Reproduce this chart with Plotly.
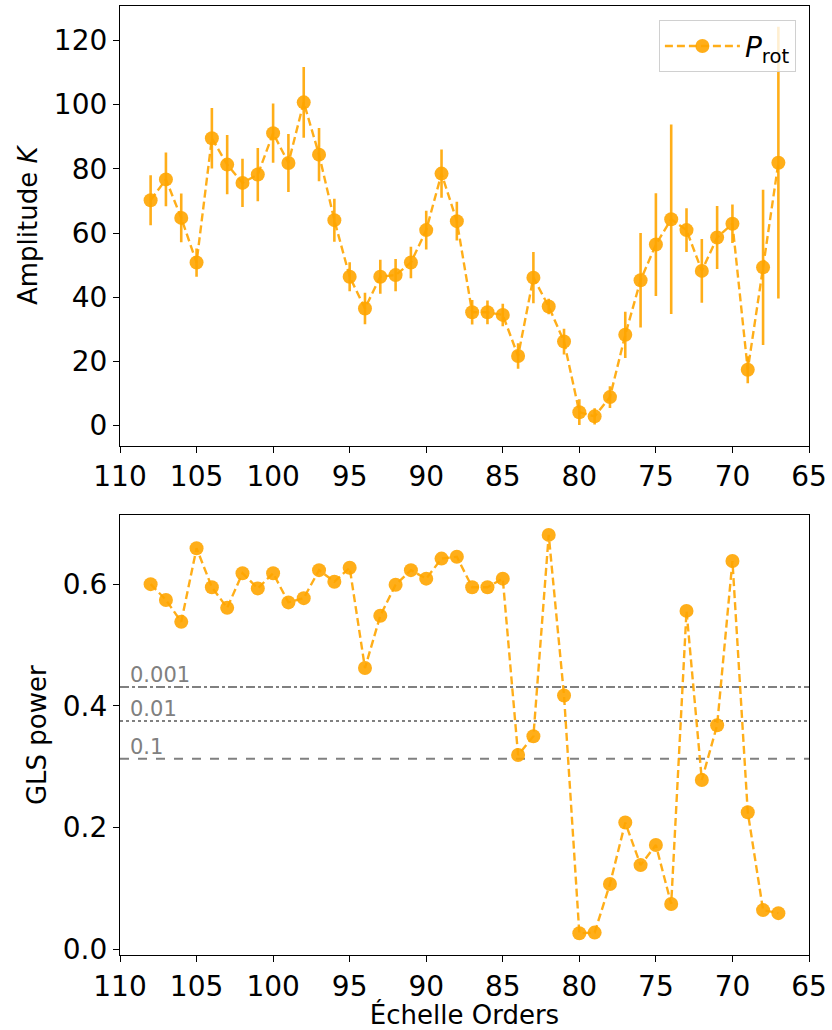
import plotly.graph_objects as go

# Echelle order numbers
orders = list(range(108, 66, -1))

# Rotation-period amplitude per order and its uncertainty
amplitude = [70.2, 76.7, 64.7, 50.8, 89.5, 81.3, 75.6, 78.2, 91.1, 81.8,
             100.7, 84.4, 64.0, 46.4, 36.5, 46.4, 46.9, 50.8, 60.9, 78.5,
             63.7, 35.3, 35.3, 34.5, 21.7, 46.1, 37.1, 26.2, 4.2, 2.9,
             8.9, 28.3, 45.3, 56.4, 64.3, 60.9, 48.2, 58.6, 62.9, 17.4,
             49.3, 81.9]
amplitude_err = [7.8, 8.4, 7.6, 4.4, 9.4, 9.2, 7.5, 8.3, 9.2, 9.0,
                 11.0, 8.3, 6.7, 4.5, 4.9, 5.3, 5.0, 4.9, 6.0, 7.5,
                 6.0, 3.8, 3.7, 3.5, 4.0, 8.0, 2.4, 4.0, 4.0, 2.5,
                 3.4, 7.2, 14.7, 16.0, 29.5, 6.8, 9.9, 9.8, 6.0, 4.2,
                 24.2, 42.3]

# GLS periodogram power at the rotation period per order
gls_power = [0.600, 0.574, 0.538, 0.659, 0.595, 0.561, 0.618, 0.593, 0.618, 0.570,
             0.577, 0.623, 0.604, 0.627, 0.462, 0.548, 0.599, 0.623, 0.609, 0.642,
             0.645, 0.595, 0.595, 0.609, 0.319, 0.350, 0.681, 0.417, 0.026, 0.027,
             0.107, 0.208, 0.138, 0.171, 0.074, 0.556, 0.278, 0.368, 0.638, 0.225,
             0.064, 0.059]

# False-alarm-probability levels
fap_labels = ["0.001", "0.01", "0.1"]
fap_levels = [0.431, 0.375, 0.313]
fap_dashes = ["dashdot", "dot", "dash"]

ORANGE = "rgba(255,165,0,0.9)"
GREY = "#808080"
FONT = "DejaVu Sans"

fig = go.Figure()

fig.add_trace(go.Scatter(
    x=orders, y=amplitude,
    error_y=dict(type="data", array=amplitude_err, color=ORANGE, thickness=2.6, width=0),
    mode="lines+markers",
    line=dict(color=ORANGE, width=2.4, dash="8px,4px"),
    marker=dict(color=ORANGE, size=14),
    name="<i>P</i><sub>rot</sub>",
    xaxis="x", yaxis="y",
))

fig.add_trace(go.Scatter(
    x=orders, y=gls_power,
    mode="lines+markers",
    line=dict(color=ORANGE, width=2.4, dash="8px,4px"),
    marker=dict(color=ORANGE, size=14),
    showlegend=False,
    xaxis="x2", yaxis="y2",
))

for lab, lev, dsh in zip(fap_labels, fap_levels, fap_dashes):
    fig.add_shape(type="line", xref="x2 domain", yref="y2",
                  x0=0, x1=1, y0=lev, y1=lev,
                  line=dict(color=GREY, width=2, dash=dsh), layer="below")
    fig.add_annotation(xref="x2", yref="y2", x=109.45, y=lev, text=lab,
                       showarrow=False, xanchor="left", yanchor="bottom",
                       yshift=-2, font=dict(family=FONT, size=21, color=GREY))

axis_common = dict(
    showline=True, linecolor="black", linewidth=1.2, mirror=True,
    ticks="outside", ticklen=6, tickwidth=1.2, tickcolor="black",
    showgrid=False, zeroline=False,
    tickfont=dict(family=FONT, size=28, color="black"),
)

fig.update_layout(
    width=832, height=1030,
    margin=dict(l=120, r=22, t=5, b=73),
    plot_bgcolor="white", paper_bgcolor="white",
    font=dict(family=FONT, color="black"),
    xaxis=dict(domain=[0, 1], anchor="y", range=[110, 65],
               tickvals=list(range(110, 64, -5)), **axis_common),
    yaxis=dict(domain=[0.5368, 1.0], anchor="x", range=[-6.2, 130.7],
               tickvals=[0, 20, 40, 60, 80, 100, 120],
               title=dict(text="Amplitude <i>K</i>", font=dict(family=FONT, size=26), standoff=8),
               **axis_common),
    xaxis2=dict(domain=[0, 1], anchor="y2", range=[110, 65],
                tickvals=list(range(110, 64, -5)),
                title=dict(text="Échelle Orders", font=dict(family=FONT, size=26), standoff=4),
                **axis_common),
    yaxis2=dict(domain=[0, 0.4632], anchor="x2", range=[-0.0098, 0.713],
                tickvals=[0.0, 0.2, 0.4, 0.6], tickformat=".1f",
                title=dict(text="GLS power", font=dict(family=FONT, size=26), standoff=8),
                **axis_common),
    legend=dict(x=0.981, y=0.985, xanchor="right", yanchor="top",
                bgcolor="rgba(255,255,255,0.8)", bordercolor="#d0d0d0", borderwidth=1,
                itemwidth=75, font=dict(family=FONT, size=28)),
)

fig.write_html("out.html")
